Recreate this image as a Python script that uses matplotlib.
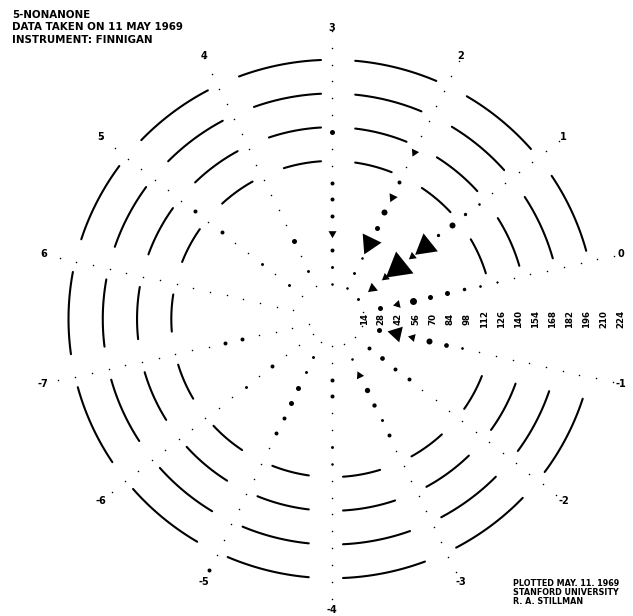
import numpy as np
import matplotlib
matplotlib.use("Agg")
import matplotlib.pyplot as plt

# ---------------- data ----------------
title_lines = ["5-NONANONE", "DATA TAKEN ON 11 MAY 1969", "INSTRUMENT: FINNIGAN"]
credit_lines = ["PLOTTED MAY. 11. 1969", "STANFORD UNIVERSITY", "R. A. STILLMAN"]

spoke_labels = [-7, -6, -5, -4, -3, -2, -1, 0, 1, 2, 3, 4, 5, 6]
mass_ticks = [14, 28, 42, 56, 70, 84, 98, 112, 126, 140, 154, 168, 182, 196, 210, 224]
ring_mass = [119, 147, 175, 203]
cycles = list(range(1, 17))          # mass cycles of 14 shown on each spoke

# peaks: mass and relative intensity (%)
peak_mass = [28, 42, 56, 70, 84, 98, 112, 126,
             15, 29, 43, 57, 71, 85, 99, 113, 127, 141,
             16, 30, 44, 58, 72, 86, 100, 114, 142,
             17, 31, 45, 59, 73, 87, 101, 143,
             32, 60,
             33, 61, 103, 131,
             63, 77,
             50, 78,
             23, 37, 51, 65, 79, 93, 219,
             38, 52, 94, 108,
             25, 39, 53, 67, 81, 95,
             26, 40, 54, 68,
             27, 41, 55, 69, 83, 97]
peak_int = [3.2, 8.2, 6.2, 3.2, 3.2, 1.6, 0.9, 0.6,
            1.1, 12.8, 8.2, 100.0, 8.2, 67.5, 1.4, 4.6, 1.4, 0.8,
            0.8, 1.1, 0.8, 56.0, 3.2, 4.6, 10.3, 2.0, 8.2,
            0.8, 1.1, 2.0, 8.2, 2.0, 2.0, 2.0, 3.2,
            1.1, 3.2,
            1.1, 1.1, 2.0, 2.0,
            2.0, 2.0,
            2.0, 1.1,
            1.1, 1.1, 3.2, 3.2, 2.0, 2.0, 2.0,
            2.0, 2.0, 1.1, 0.8,
            0.8, 8.2, 3.6, 2.4, 1.1, 2.0,
            2.0, 2.8, 2.0, 2.0,
            3.2, 32.7, 8.2, 4.6, 2.8, 0.9]

# ---------------- layout ----------------
W, H = 633, 616
fig = plt.figure(figsize=(W / 100, H / 100), dpi=100)
ax = fig.add_axes([0, 0, 1, 1])
sx, sy = 1.2238, 1.204          # pixels per data unit
cx, cy = 332, 319               # centre in pixels (from top-left)
ax.set_xlim(-cx / sx, (W - cx) / sx)
ax.set_ylim(-(H - cy) / sy, cy / sy)
ax.axis("off")

R0 = 12.3                       # radial offset
step = 360.0 / 14


def spoke_angle(k):
    return step / 2 + step * k


def residue(m):
    return ((m + 7) % 14) - 7


# rings drawn as arcs between spokes (sector around 0 deg left open)
for rm in ring_mass:
    R = rm + R0
    for k in spoke_labels:
        a = spoke_angle(k)
        if k == -1:
            continue
        t0 = np.deg2rad(a) + 9.0 / R
        t1 = np.deg2rad(a + step) - 19.0 / R
        t = np.linspace(t0, t1, 60)
        ax.plot(R * np.cos(t), R * np.sin(t), color="black", lw=1.5,
                solid_capstyle="round")

# dotted spokes: one small dot per mass position
for k in spoke_labels:
    th = np.deg2rad(spoke_angle(k))
    ms = np.array([14 * n + k for n in cycles])
    R = ms + R0
    ax.plot(R * np.cos(th), R * np.sin(th), ls="none", marker="o",
            ms=1.1, color="black", mec="none")

# spoke labels
for k in spoke_labels:
    th = np.deg2rad(spoke_angle(k))
    R = 242
    ax.text(R * np.cos(th), R * np.sin(th), str(k), ha="center", va="center",
            fontsize=7, fontweight="bold", family="DejaVu Sans")

# mass scale along 0 deg
for m in mass_ticks:
    ax.text(m + R0, 0, str(m), rotation=90, ha="center", va="center",
            fontsize=6.2, fontweight="bold", family="DejaVu Sans")

# peaks
for m, inten in zip(peak_mass, peak_int):
    k = residue(m)
    ang = spoke_angle(k)
    th = np.deg2rad(ang)
    R = m + R0
    side = 28.0 * np.sqrt(inten / 100.0)     # pixels
    x, y = R * np.cos(th), R * np.sin(th)
    if side >= 7:
        msz = 2 * side / (np.sqrt(3) * 1.389)
        ax.plot(x, y, ls="none", marker=(3, 0, ang + 90), ms=msz,
                color="black", mec="none")
    else:
        ax.plot(x, y, ls="none", marker="o", ms=side / 1.389,
                color="black", mec="none")

# header and credits
for i, line in enumerate(title_lines):
    fig.text(12 / W, 1 - (15 + 12.5 * i) / H, line, ha="left", va="center",
             fontsize=7.4, fontweight="bold", family="DejaVu Sans")
for i, line in enumerate(credit_lines):
    fig.text(513 / W, 1 - (583 + 9.5 * i) / H, line, ha="left", va="center",
             fontsize=5.8, fontweight="bold", family="DejaVu Sans")

fig.savefig("out.png", dpi=100, facecolor="white")
